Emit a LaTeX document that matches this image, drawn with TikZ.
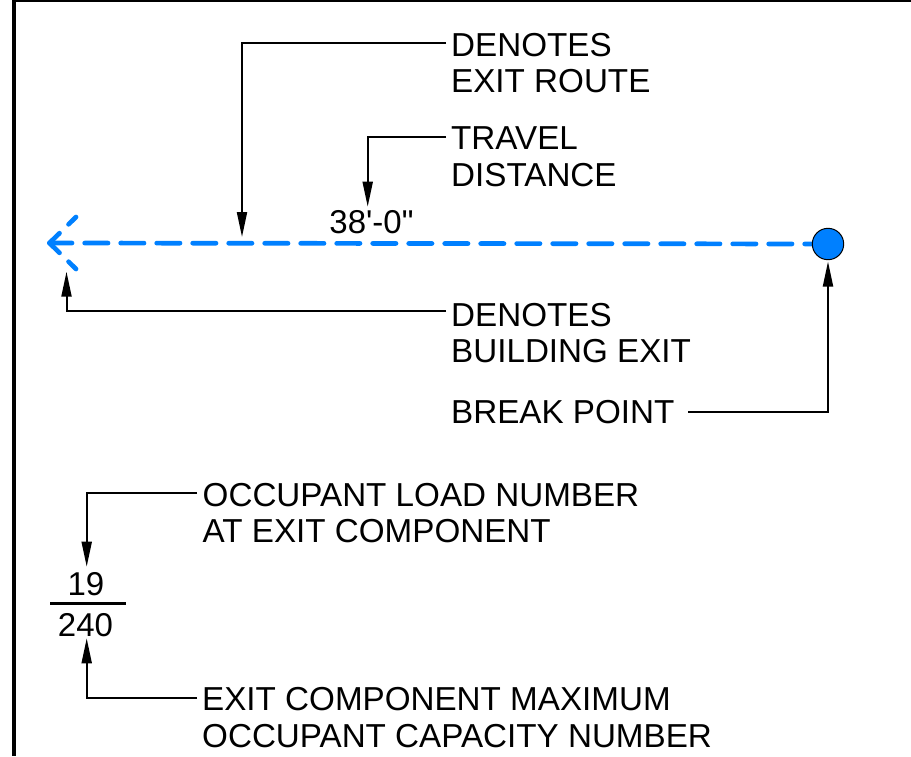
\documentclass[tikz,border=0pt]{standalone}
\usepackage{fontspec}
\setmainfont{Liberation Sans}[Ligatures=TeXOff]
\usetikzlibrary{arrows.meta}
\definecolor{routeblue}{RGB}{0,128,255}
\begin{document}
\begin{tikzpicture}[x=1pt,y=-1pt,
  lbl/.style={anchor=base west,inner sep=0pt,font=\fontsize{33.2}{37}\selectfont},
  num/.style={anchor=base,inner sep=0pt,font=\fontsize{33}{37}\selectfont},
  leader/.style={line width=2pt,-{Triangle[length=25pt,width=10pt]}},
  route/.style={routeblue,line width=4.7pt,line cap=round,dash pattern=on 23.3pt off 12.7pt},
  armline/.style={route,dash pattern=on 14pt off 12.7pt on 30pt off 10pt}]
\useasboundingbox (0,0) rectangle (911,756);

% sheet frame (left and top edges)
\draw[line width=2pt] (14,1) -- (911,1);
\draw[line width=4pt] (14,0) -- (14,756);

% exit route: dashed path ending in an open chevron at the building exit
\coordinate (tip) at (49.5,243);
\coordinate (armU) at (76,217);
\coordinate (armD) at (76,269);
\node[circle,inner sep=0pt,minimum size=31.4pt] (dotpos) at (828,244) {};
\draw[route] (dotpos.center) -- (tip);
\draw[armline] (tip) -- (armU);
\draw[armline] (tip) -- (armD);
\node[circle,inner sep=0pt,minimum size=31.4pt,fill=routeblue,draw=black,line width=1pt] (dot) at (828,244) {};

% travel distance value
\node[num] (dist) at (371.5,233.3) {38'-0"};

% labels
\node[lbl] (routeA) at (451,56) {DENOTES};
\node[lbl] (routeB) at (451,92.7) {EXIT ROUTE};
\node[lbl] (travA) at (451,149.3) {TRAVEL};
\node[lbl] (travB) at (451,186.5) {DISTANCE};
\node[lbl] (exitA) at (451,326) {DENOTES};
\node[lbl] (exitB) at (451,362.7) {BUILDING EXIT};
\node[lbl] (brk) at (451,423.3) {BREAK POINT};
\node[lbl] (loadA) at (202.5,506) {OCCUPANT LOAD NUMBER};
\node[lbl] (loadB) at (202.5,542.7) {AT EXIT COMPONENT};
\node[lbl] (capA) at (202,710.7) {EXIT COMPONENT MAXIMUM};
\node[lbl] (capB) at (202,747.3) {OCCUPANT CAPACITY NUMBER};

% occupant load fraction
\node[num] (load) at (86,595) {19};
\node[num] (cap) at (85.5,636.7) {240};
\coordinate (barL) at (50,603.3);
\coordinate (barR) at (126,603.3);
\draw[line width=3pt] (barL) -- (barR);

% leader lines
\coordinate (l1s) at (446,42.5);  \coordinate (l1e) at (242,237);
\coordinate (l2s) at (446,136.7); \coordinate (l2e) at (367.7,206.7);
\coordinate (l3s) at (446,310.5); \coordinate (l3e) at (66.5,271.7);
\coordinate (l4s) at (688,411.7); \coordinate (l4e) at (828,261.5);
\coordinate (l5s) at (197,493.3); \coordinate (l5e) at (86.7,566.7);
\coordinate (l6s) at (197,698.3); \coordinate (l6e) at (86.7,638.3);
\draw[leader] (l1s) -| (l1e);
\draw[leader] (l2s) -| (l2e);
\draw[leader] (l3s) -| (l3e);
\draw[leader] (l4s) -| (l4e);
\draw[leader] (l5s) -| (l5e);
\draw[leader] (l6s) -| (l6e);
\end{tikzpicture}
\end{document}
